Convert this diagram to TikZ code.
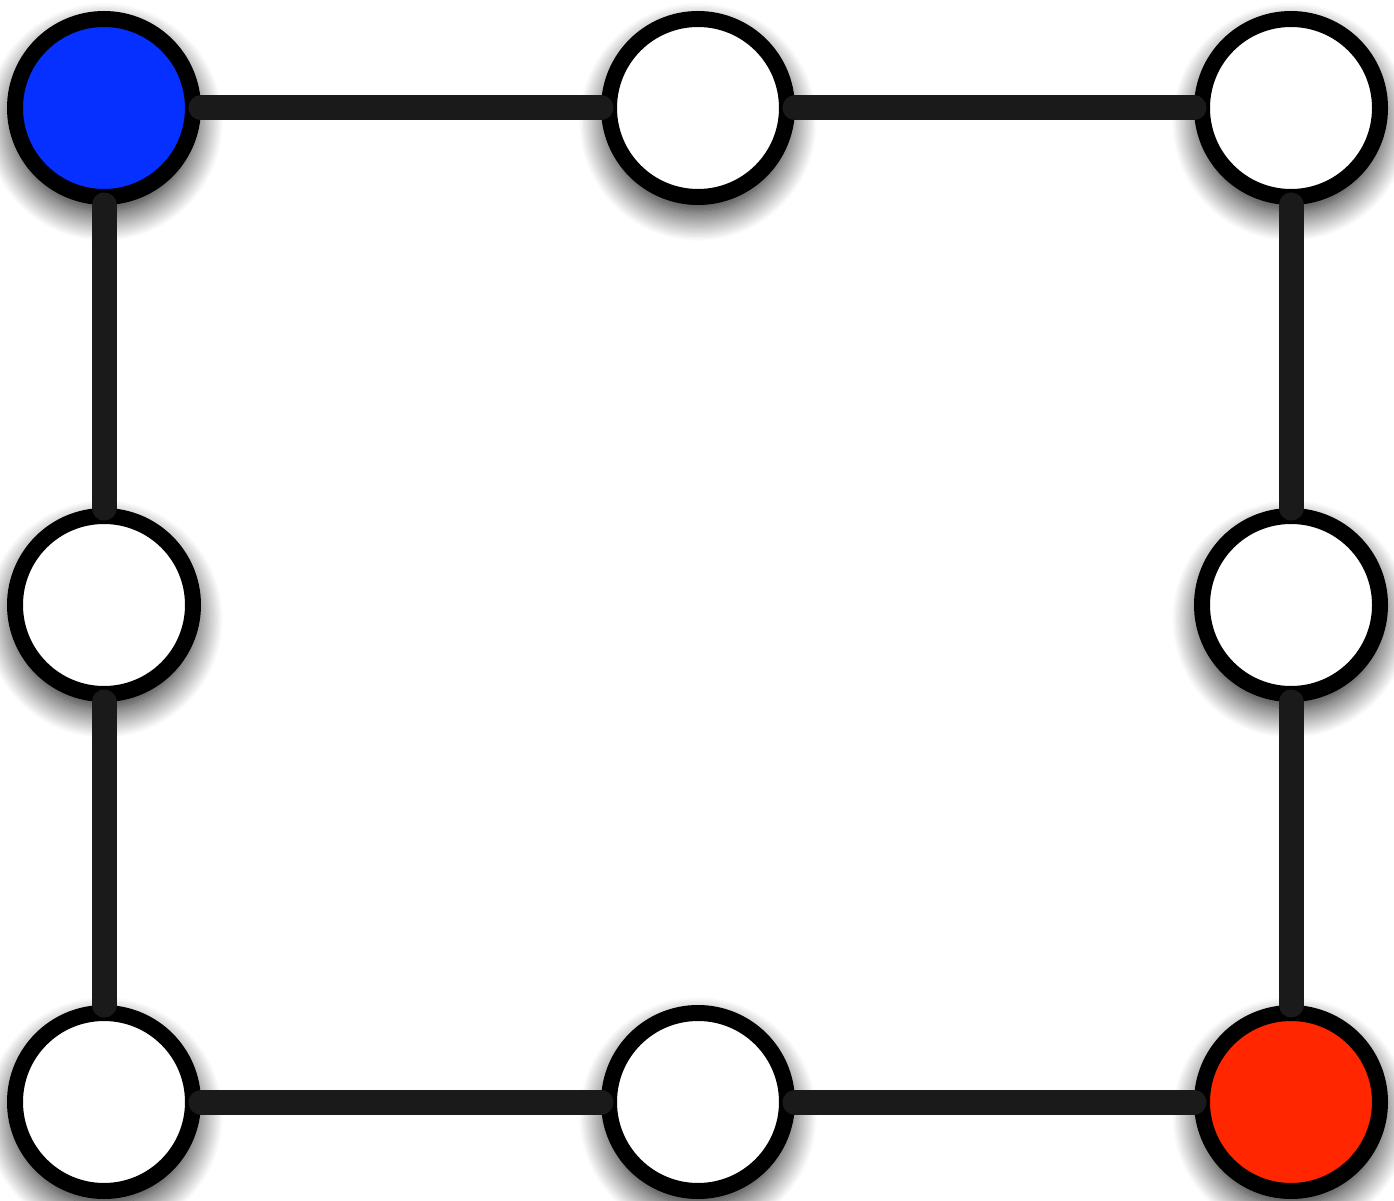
\documentclass[tikz,border=0pt]{standalone}
\usetikzlibrary{shadows.blur}
\definecolor{startblue}{HTML}{0530FF}
\definecolor{goalred}{HTML}{FF2600}
\definecolor{edgegray}{HTML}{1A1A1A}
\begin{document}
\begin{tikzpicture}[x=1cm,y=1cm]
  \tikzstyle{cell}=[circle, draw=black, line width=0.16cm, fill=white, minimum size=1.78cm,
    inner sep=0pt, outer sep=0pt,
    blur shadow={shadow xshift=0cm, shadow yshift=-0.14cm, shadow blur radius=0.3cm,
      shadow blur steps=24, shadow opacity=100}]
  \tikzstyle{link}=[draw=edgegray, line width=0.25cm, line cap=round, shorten <=0.08cm, shorten >=0.08cm]

  \useasboundingbox (0,0) rectangle (13.94,12);

  \node[cell, fill=startblue] (tl) at (1.04,10.92) {};
  \node[cell] (tm) at (6.98,10.92) {};
  \node[cell] (tr) at (12.91,10.92) {};
  \node[cell] (ml) at (1.04,5.95) {};
  \node[cell] (mr) at (12.91,5.95) {};
  \node[cell] (bl) at (1.04,0.98) {};
  \node[cell] (bm) at (6.98,0.98) {};
  \node[cell, fill=goalred] (br) at (12.91,0.98) {};

  \draw[link] (tl) -- (tm);
  \draw[link] (tm) -- (tr);
  \draw[link] (tl) -- (ml);
  \draw[link] (ml) -- (bl);
  \draw[link] (tr) -- (mr);
  \draw[link] (mr) -- (br);
  \draw[link] (bl) -- (bm);
  \draw[link] (bm) -- (br);
\end{tikzpicture}
\end{document}
